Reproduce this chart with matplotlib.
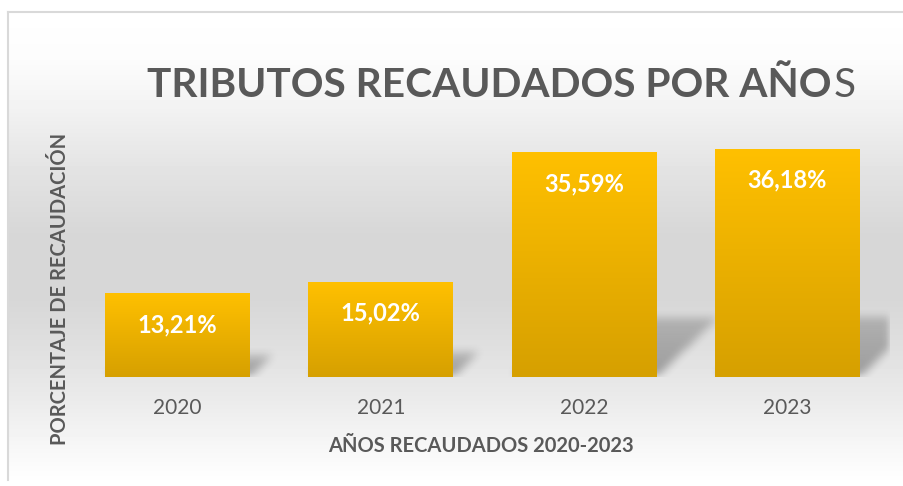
import matplotlib
matplotlib.use("Agg")
import matplotlib.pyplot as plt
import numpy as np
from matplotlib.path import Path

# ---- data -------------------------------------------------------------
years = ["2020", "2021", "2022", "2023"]
values = [13.21, 15.02, 35.59, 36.18]
labels = ["13,21%", "15,02%", "35,59%", "36,18%"]

TITLE_BOLD = "TRIBUTOS RECAUDADOS POR AÑO"
TITLE_TAIL = "S"
XLABEL = "AÑOS RECAUDADOS 2020-2023"
YLABEL = "PORCENTAJE DE RECAUDACIÓN"

TEXT = "#595959"
FONT = ["Lato", "DejaVu Sans"]
plt.rcParams["font.family"] = FONT

W, H = 904, 486
fig = plt.figure(figsize=(W / 100, H / 100), dpi=100, facecolor="white")

# ---- chart-area background (white -> grey -> white) -------------------
bg = fig.add_axes([8 / W, (H - 480) / H, (W - 8) / W, 468 / H])
rows = np.arange(12, 480)
stop_y = [12, 60, 100, 170, 233, 300, 350, 400, 440, 470, 480]
stop_v = [255, 252, 244, 227, 215, 215, 224, 235, 245, 252, 254]
grad = np.interp(rows, stop_y, stop_v) / 255.0
bg.imshow(np.repeat(grad[:, None], 2, axis=1), cmap="gray", vmin=0, vmax=1,
          aspect="auto", extent=[0, 1, 0, 1])
bg.set_xticks([])
bg.set_yticks([])
for s in ["right", "bottom"]:
    bg.spines[s].set_visible(False)
for s in ["left", "top"]:
    bg.spines[s].set_color("#D9D9D9")
    bg.spines[s].set_linewidth(1.5)

# ---- plot area ---------------------------------------------------------
BASE_PX, TOP_PX = 377, 125
LEFT_PX, RIGHT_PX = 75.8, 889.0
YMAX = 40.0
ax = fig.add_axes([LEFT_PX / W, (H - BASE_PX) / H,
                   (RIGHT_PX - LEFT_PX) / W, (BASE_PX - TOP_PX) / H])
ax.set_facecolor("none")

x = np.arange(len(years))
bar_w = 0.713
px_per_x = (RIGHT_PX - LEFT_PX) / 4.0
px_per_y = (BASE_PX - TOP_PX) / YMAX

# perspective shadow behind each bar, blurred
nx, ny = int(RIGHT_PX - LEFT_PX), int(BASE_PX - TOP_PX)
gx = np.linspace(-0.5, 3.5, nx)
gy = np.linspace(0, YMAX, ny)
GX, GY = np.meshgrid(gx, gy)
pts = np.column_stack([GX.ravel(), GY.ravel()])
alpha = np.zeros(GX.shape)
for xi, v in zip(x, values):
    sh = 0.26 * v
    dx = 0.27 * v * px_per_y / px_per_x
    x0, x1 = xi - bar_w / 2, xi + bar_w / 2
    poly = Path([(x0, 0), (x1, 0), (x1 + dx, sh), (x0 + dx, sh), (x0, 0)])
    m = poly.contains_points(pts).reshape(GX.shape).astype(float)
    fade = np.clip(1 - 0.4 * GY / max(sh, 1e-6), 0, 1)
    alpha = np.maximum(alpha, m * fade)


def box_blur(a, k):
    ker = np.ones(k) / k
    a = np.apply_along_axis(lambda r: np.convolve(r, ker, mode="same"), 1, a)
    return np.apply_along_axis(lambda c: np.convolve(c, ker, mode="same"), 0, a)


alpha = box_blur(box_blur(alpha, 11), 9)
shadow = np.zeros((ny, nx, 4))
shadow[..., 3] = alpha * 0.32
ax.imshow(shadow, origin="lower", extent=[-0.5, 3.5, 0, YMAX],
          aspect="auto", zorder=1, interpolation="bilinear")

# gold gradient bars
top_c = np.array([255, 192, 0]) / 255
bot_c = np.array([214, 160, 0]) / 255
t = np.linspace(0, 1, 128)[:, None]
bar_img = (bot_c * (1 - t) + top_c * t)[:, None, :]
for xi, v, lab in zip(x, values, labels):
    ax.imshow(bar_img, origin="lower", aspect="auto", zorder=2,
              extent=[xi - bar_w / 2, xi + bar_w / 2, 0, v])
    ax.text(xi, v - 31 / px_per_y, lab, ha="center", va="center",
            color="white", fontsize=17, fontweight="bold", zorder=3)

ax.set_xlim(-0.5, 3.5)
ax.set_ylim(0, YMAX)
ax.set_xticks(x)
ax.set_xticklabels(years, fontsize=15, color=TEXT)
ax.set_yticks([])
ax.tick_params(axis="x", length=0, pad=15)
for s in ax.spines.values():
    s.set_visible(False)

# ---- title: bold text with a regular final "S", fitted to 147..855 px ----
T_LEFT, T_RIGHT, T_BASE = 147, 855, 97
renderer = fig.canvas.get_renderer()
probe_b = fig.text(0, 0, TITLE_BOLD, fontsize=30, fontweight="bold")
probe_s = fig.text(0, 0, TITLE_TAIL, fontsize=30)
wb = probe_b.get_window_extent(renderer=renderer).width
ws = probe_s.get_window_extent(renderer=renderer).width
probe_b.remove()
probe_s.remove()
fs = 30 * (T_RIGHT - T_LEFT) / (wb + ws + 2)
fig.text(T_LEFT / W, 1 - T_BASE / H, TITLE_BOLD, ha="left", va="baseline",
         fontsize=fs, fontweight="bold", color=TEXT)
fig.text((T_LEFT + wb * fs / 30 + 2) / W, 1 - T_BASE / H, TITLE_TAIL,
         ha="left", va="baseline", fontsize=fs, color=TEXT)

fig.text(481 / W, 1 - 446 / H, XLABEL, ha="center", va="center",
         fontsize=14.5, fontweight="bold", color=TEXT)
fig.text(60 / W, 1 - 289 / H, YLABEL, ha="center", va="center",
         rotation=90, fontsize=14.5, fontweight="bold", color=TEXT)

fig.savefig("out.png", dpi=100, facecolor="white")
